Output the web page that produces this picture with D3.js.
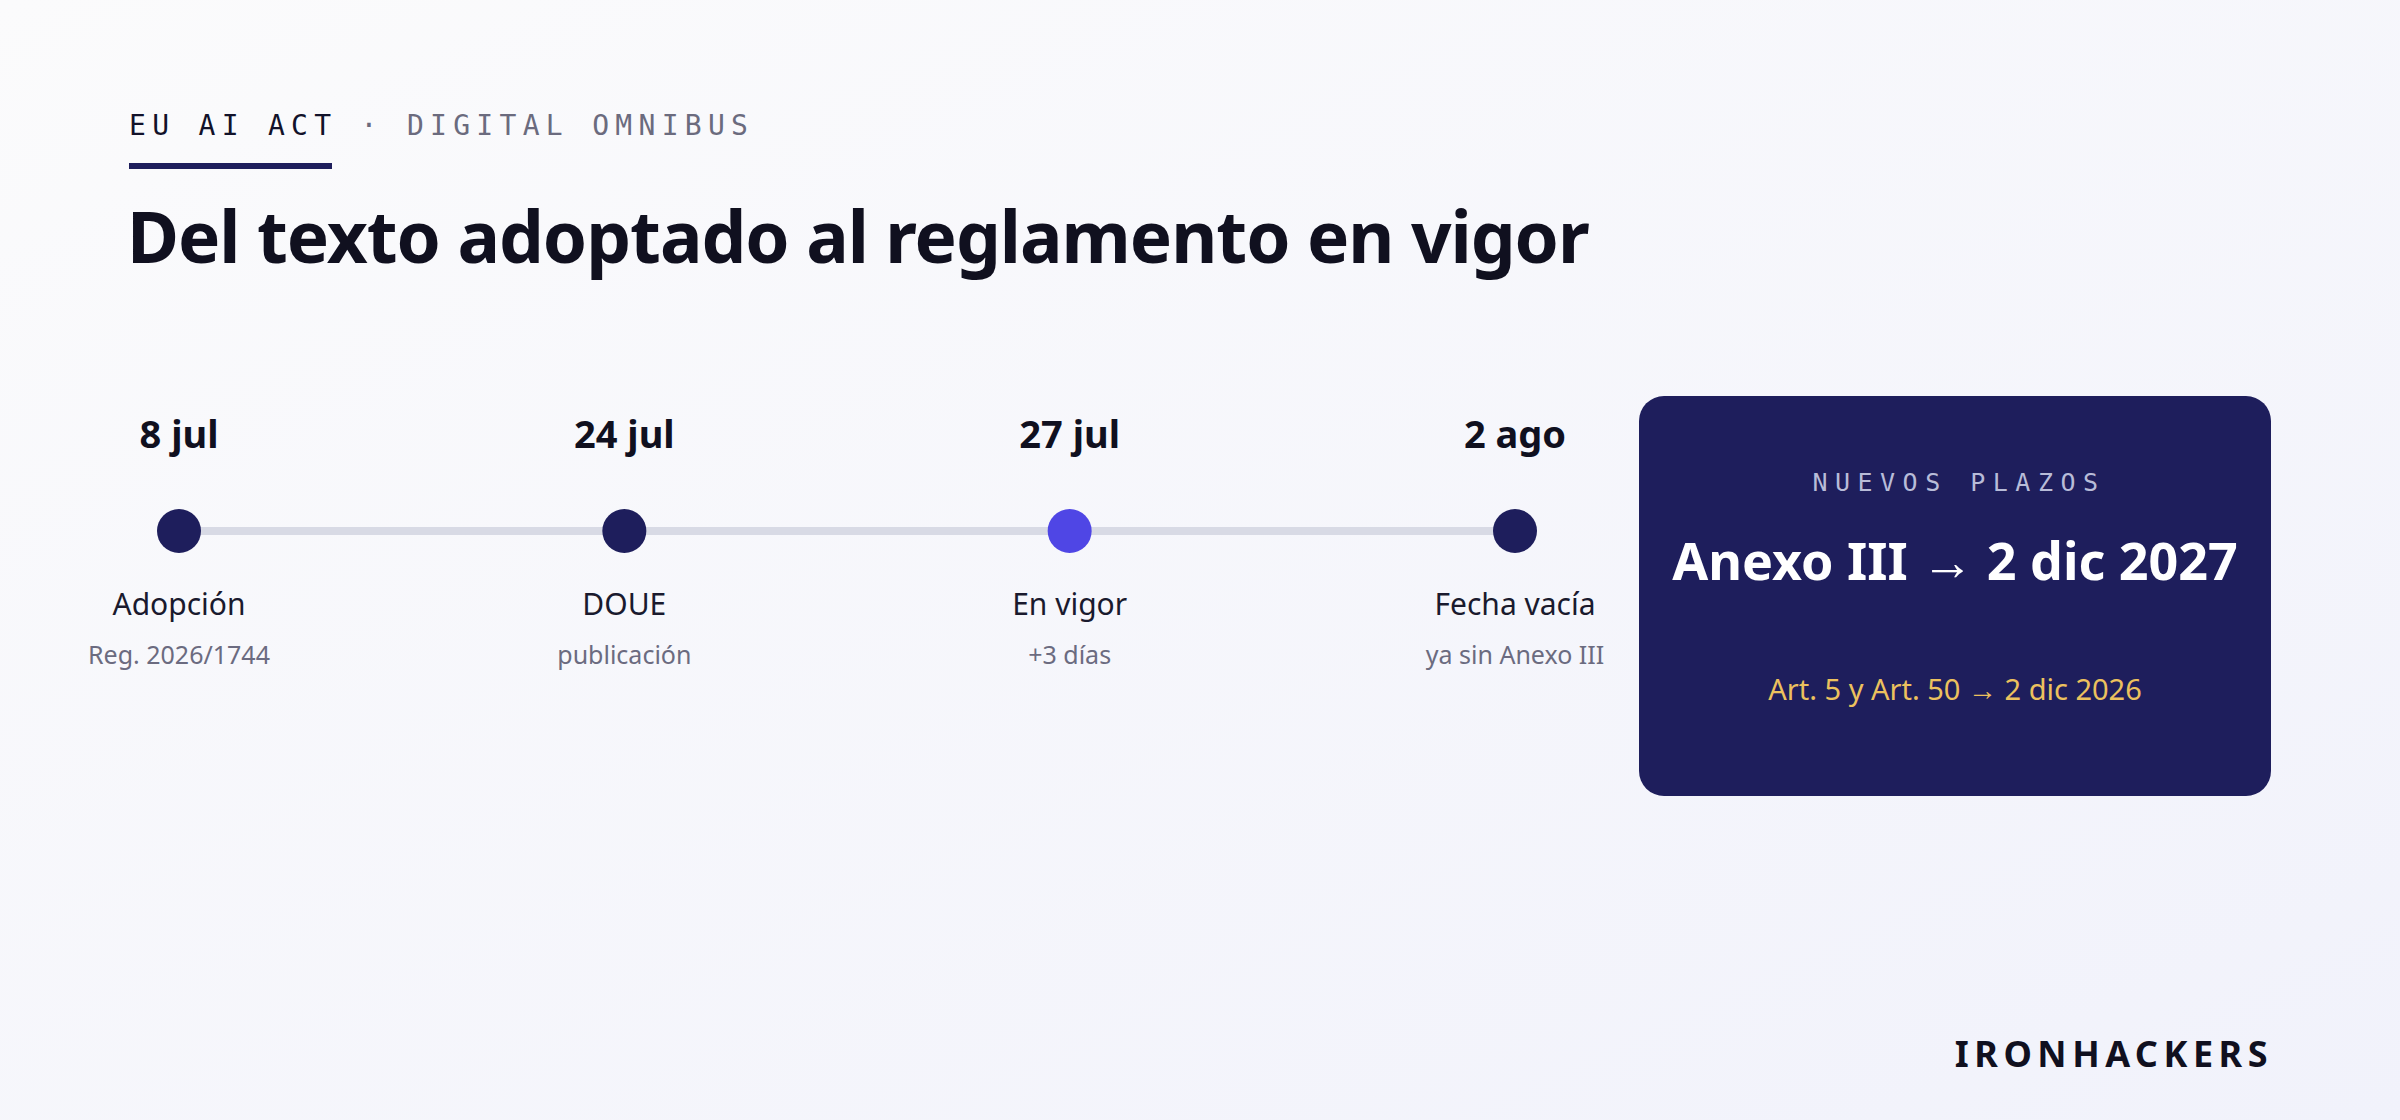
<!DOCTYPE html>
<html><head><meta charset="utf-8">
<script src="https://cdn.jsdelivr.net/npm/d3@7"></script>
<style>html,body{margin:0;padding:0;}svg{display:block;}</style>
</head><body>
<script>
const dates = ["8 jul", "24 jul", "27 jul", "2 ago"];
const labels = ["Adopción", "DOUE", "En vigor", "Fecha vacía"];
const subs = ["Reg. 2026/1744", "publicación", "+3 días", "ya sin Anexo III"];
const highlight = [false, false, true, false];
const eyebrowA = "EU AI ACT";
const eyebrowB = " · DIGITAL OMNIBUS";
const title = "Del texto adoptado al reglamento en vigor";
const boxKicker = "NUEVOS PLAZOS";
const boxMain = "Anexo III → 2 dic 2027";
const boxSub = "Art. 5 y Art. 50 → 2 dic 2026";
const brand = "IRONHACKERS";

const W = 2400, H = 1120;
const svg = d3.select("body").append("svg").attr("width", W).attr("height", H);
const defs = svg.append("defs");
const g = defs.append("linearGradient").attr("id","bg").attr("x1","0").attr("y1","0").attr("x2","1").attr("y2","1");
g.append("stop").attr("offset","0").attr("stop-color","#fbfbfc");
g.append("stop").attr("offset","1").attr("stop-color","#f1f2fb");
svg.append("rect").attr("width",W).attr("height",H).attr("fill","url(#bg)");

const mono = "'DejaVu Sans Mono', monospace";
const sans = "'Noto Sans', sans-serif";

const eb = svg.append("text").attr("x",129).attr("y",135).attr("font-family",mono)
  .attr("font-size",28).attr("letter-spacing",6.3);
eb.append("tspan").attr("fill","#12122a").text(eyebrowA);
eb.append("tspan").attr("fill","#6b6b7e").text(eyebrowB);
svg.append("rect").attr("x",129).attr("y",163).attr("width",203).attr("height",6).attr("fill","#1e1e5c");

svg.append("text").attr("x",127).attr("y",263).attr("font-family",sans).attr("font-weight",700)
  .attr("font-size",71).attr("fill","#10101f").attr("letter-spacing",-1).text(title);

const x = d3.scalePoint().domain(dates).range([179, 1515]);
const cy = 531;
svg.append("line").attr("x1",x(dates[0])).attr("x2",x(dates[dates.length-1]))
  .attr("y1",cy).attr("y2",cy).attr("stroke","#d8dae5").attr("stroke-width",8);

const nodes = svg.selectAll("g.n").data(dates).join("g").attr("class","n")
  .attr("transform", d => `translate(${x(d)},0)`);
nodes.append("text").attr("y",448).attr("text-anchor","middle").attr("font-family",sans)
  .attr("font-weight",700).attr("font-size",38).attr("fill","#10101f").text(d => d);
nodes.append("circle").attr("cy",cy).attr("r",22)
  .attr("fill",(d,i) => highlight[i] ? "#4f46e5" : "#1e1e5c");
nodes.append("text").attr("y",615).attr("text-anchor","middle").attr("font-family",sans)
  .attr("font-size",30).attr("fill","#1a1a2e").text((d,i) => labels[i]);
nodes.append("text").attr("y",664).attr("text-anchor","middle").attr("font-family",sans)
  .attr("font-size",25).attr("fill","#6b6b80").text((d,i) => subs[i]);

const bx = 1639, by = 396, bw = 632, bh = 400, cxb = bx + bw/2;
svg.append("rect").attr("x",bx).attr("y",by).attr("width",bw).attr("height",bh).attr("rx",25)
  .attr("fill","#1e1e5c");
svg.append("text").attr("x",cxb+4).attr("y",491).attr("text-anchor","middle").attr("font-family",mono)
  .attr("font-size",25).attr("letter-spacing",7.5).attr("fill","#b8bcd8").text(boxKicker);
svg.append("text").attr("x",cxb).attr("y",580).attr("text-anchor","middle").attr("font-family",sans)
  .attr("font-weight",700).attr("font-size",52).attr("fill","#ffffff").text(boxMain);
svg.append("text").attr("x",cxb).attr("y",700).attr("text-anchor","middle").attr("font-family",sans)
  .attr("font-size",29).attr("fill","#ecc15e").text(boxSub);

svg.append("text").attr("x",2273).attr("y",1067).attr("text-anchor","end").attr("font-family",sans)
  .attr("font-weight",700).attr("font-size",36).attr("letter-spacing",5.5).attr("fill","#10101f").text(brand);
</script>
</body></html>
